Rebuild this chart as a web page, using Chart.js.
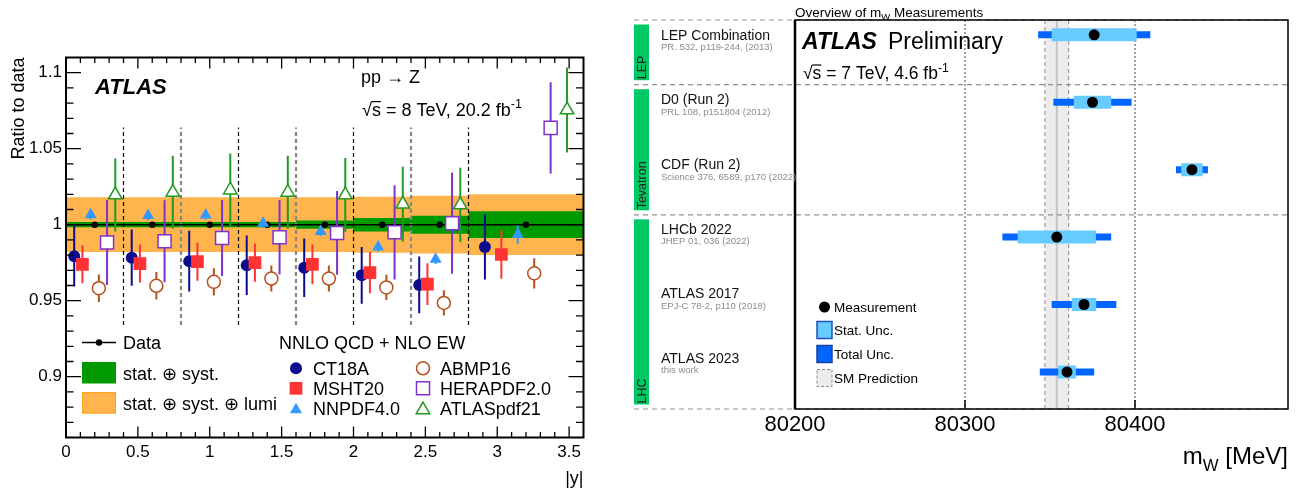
<!DOCTYPE html>
<html>
<head>
<meta charset="utf-8">
<script src="https://cdn.jsdelivr.net/npm/chart.js@4.4.1/dist/chart.umd.min.js"></script>
<style>
  body { margin: 0; background: #fff; }
  #left { position: absolute; left: 0; top: 0; }
  #right { position: absolute; left: 600px; top: 0; }
</style>
</head>
<body>
<canvas id="left" width="600" height="491"></canvas>
<canvas id="right" width="705" height="491"></canvas>
<script>
// ---------- left panel: Z rapidity, ratio to data ----------
const binLo = [0, 0.4, 0.8, 1.2, 1.6, 2.0, 2.4, 2.8];
const binHi = [0.4, 0.8, 1.2, 1.6, 2.0, 2.4, 2.8, 3.6];
const dataRatio = [1, 1, 1, 1, 1, 1, 1, 1];
const errStatSyst = [0.0017, 0.0017, 0.0017, 0.0017, 0.0027, 0.0044, 0.0059, 0.0088];
const errStatSystLumi = [0.018, 0.018, 0.018, 0.018, 0.018, 0.0184, 0.019, 0.020];

const ct18a = [0.9793, 0.9783, 0.976, 0.9733, 0.9717, 0.9667, 0.9604, 0.9854];
const ct18aErr = [0.020, 0.0185, 0.020, 0.0196, 0.0193, 0.0187, 0.0186, 0.0215];
const msht20 = [0.9739, 0.9744, 0.9757, 0.975, 0.9739, 0.9685, 0.9609, 0.9804];
const msht20Err = [0.0125, 0.0125, 0.0125, 0.0126, 0.013, 0.0136, 0.0137, 0.016];
const nnpdf40 = [1.0065, 1.006, 1.0063, 1.001, 0.9956, 0.9854, 0.9772, 0.9935];
const nnpdf40Err = [0.003, 0.003, 0.003, 0.003, 0.003, 0.003, 0.003, 0.006];
const abmp16 = [0.9582, 0.9598, 0.9624, 0.9646, 0.9646, 0.9587, 0.9485, 0.968];
const abmp16Err = [0.009, 0.009, 0.009, 0.0085, 0.0085, 0.0083, 0.0083, 0.010];
const herapdf20 = [0.9883, 0.9891, 0.9913, 0.9917, 0.9946, 0.995, 1.001, 1.0637];
const herapdf20Err = [0.028, 0.027, 0.025, 0.0245, 0.0275, 0.031, 0.0333, 0.030];
const atlaspdf21 = [1.0196, 1.0213, 1.0228, 1.0213, 1.0196, 1.0135, 1.013, 1.0755];
const atlaspdf21Err = [0.024, 0.024, 0.024, 0.024, 0.0243, 0.0247, 0.0245, 0.028];

const xTicksL = [0, 0.5, 1, 1.5, 2, 2.5, 3, 3.5];
const yTicksL = [0.9, 0.95, 1, 1.05, 1.1];

// ---------- right panel: overview of mW ----------
const expNames = ['LEP Combination', 'D0 (Run 2)', 'CDF (Run 2)', 'LHCb 2022', 'ATLAS 2017', 'ATLAS 2023'];
const expRefs = ['PR. 532, p119-244, (2013)', 'PRL 108, p151804 (2012)', 'Science 376, 6589, p170 (2022)',
                 'JHEP 01, 036 (2022)', 'EPJ-C 78-2, p110 (2018)', 'this work'];
const mW = [80376, 80375, 80433.5, 80354, 80370, 80360];
const mWStat = [25, 11, 6.3, 23, 7.2, 5.2];
const mWTot = [33, 23, 9.4, 32, 19, 16];
const groupNames = ['LEP', 'Tevatron', 'LHC'];
const groupEdges = [-0.22, 0.74, 2.67, 5.55];
const smW = 80354, smWErr = 7;
const xTicksR = [80200, 80300, 80400];

const FAM = '"Liberation Sans", Arial, Helvetica, sans-serif';

// text with sub/superscripts, y is the baseline
function rich(ctx, parts, x, y, size, align, color) {
  const fontOf = p => (p.style ? p.style + ' ' : '') + (p.sub || p.sup ? size * 0.7 : size) + 'px ' + FAM;
  ctx.save();
  ctx.textBaseline = 'alphabetic';
  ctx.textAlign = 'left';
  ctx.fillStyle = color || '#000';
  ctx.strokeStyle = color || '#000';
  let total = 0;
  const ws = parts.map(p => { ctx.font = fontOf(p); const w = ctx.measureText(p.t).width; total += w; return w; });
  let cx = align === 'right' ? x - total : align === 'center' ? x - total / 2 : x;
  parts.forEach((p, i) => {
    ctx.font = fontOf(p);
    const dy = p.sup ? -size * 0.42 : p.sub ? size * 0.28 : 0;
    ctx.fillText(p.t, cx, y + dy);
    if (p.over) {
      ctx.lineWidth = Math.max(1, size / 15);
      ctx.beginPath();
      ctx.moveTo(cx - 0.5, y - size * 0.8);
      ctx.lineTo(cx + ws[i], y - size * 0.8);
      ctx.stroke();
    }
    cx += ws[i];
  });
  ctx.restore();
  return total;
}

function marker(ctx, style, x, y, r, color, open) {
  ctx.save();
  ctx.beginPath();
  if (style === 'circle') ctx.arc(x, y, r, 0, Math.PI * 2);
  else if (style === 'rect') { const s = r * Math.SQRT1_2; ctx.rect(x - s, y - s, 2 * s, 2 * s); }
  else {
    for (let k = 0; k < 3; k++) {
      const a = k * 2 * Math.PI / 3;
      ctx.lineTo(x + Math.sin(a) * r, y - Math.cos(a) * r);
    }
    ctx.closePath();
  }
  if (open) { ctx.fillStyle = '#fff'; ctx.fill(); ctx.lineWidth = 1.5; ctx.strokeStyle = color; ctx.stroke(); }
  else { ctx.fillStyle = color; ctx.fill(); }
  ctx.restore();
}

// vertical / horizontal error bars drawn just before the markers of a dataset
const errorBars = {
  id: 'errorBars',
  beforeDatasetDraw(chart, args) {
    const ds = chart.data.datasets[args.index];
    if (!ds.errY && !ds.xLo) return;
    const { ctx, scales: { x, y } } = chart;
    ctx.save();
    ctx.strokeStyle = ds.errColor || ds.pointBorderColor;
    ctx.lineWidth = ds.errWidth || 2;
    ctx.beginPath();
    ds.data.forEach((p, i) => {
      if (ds.errY) {
        const px = x.getPixelForValue(p.x);
        ctx.moveTo(px, y.getPixelForValue(p.y - ds.errY[i]));
        ctx.lineTo(px, y.getPixelForValue(p.y + ds.errY[i]));
      }
      if (ds.xLo) {
        const py = y.getPixelForValue(p.y);
        ctx.moveTo(x.getPixelForValue(ds.xLo[i]), py);
        ctx.lineTo(x.getPixelForValue(ds.xHi[i]), py);
      }
    });
    ctx.stroke();
    ctx.restore();
  }
};

// ---------- left chart ----------
function bandPts(err, sign) {
  const pts = [];
  binLo.forEach((lo, i) => {
    pts.push({ x: lo, y: dataRatio[i] + sign * err[i] }, { x: binHi[i], y: dataRatio[i] + sign * err[i] });
  });
  return pts;
}
function edgePts(edges) {
  const pts = [];
  edges.forEach(e => { pts.push({ x: e, y: 0.934 }, { x: e, y: 1.064 }, { x: e, y: null }); });
  return pts;
}

const theory = [
  { label: 'CT18A', v: ct18a, e: ct18aErr, slot: 1, color: '#0b0b8e', style: 'circle', r: 6, open: false },
  { label: 'MSHT20', v: msht20, e: msht20Err, slot: 2, color: '#ff3333', style: 'rect', r: 9, open: false },
  { label: 'NNPDF4.0', v: nnpdf40, e: nnpdf40Err, slot: 3, color: '#3399ff', style: 'triangle', r: 7, open: false },
  { label: 'ABMP16', v: abmp16, e: abmp16Err, slot: 4, color: '#b5501e', style: 'circle', r: 6.5, open: true },
  { label: 'HERAPDF2.0', v: herapdf20, e: herapdf20Err, slot: 5, color: '#7f33cc', style: 'rect', r: 9.2, open: true },
  { label: 'ATLASpdf21', v: atlaspdf21, e: atlaspdf21Err, slot: 6, color: '#229922', style: 'triangle', r: 7.8, open: true }
];

const leftDatasets = [
  { label: 'lumi up', data: bandPts(errStatSystLumi, 1), showLine: true, fill: '+1', backgroundColor: '#ffb44d', borderWidth: 0, pointRadius: 0, order: 100 },
  { label: 'lumi dn', data: bandPts(errStatSystLumi, -1), showLine: true, borderWidth: 0, pointRadius: 0, order: 99 },
  { label: 'syst up', data: bandPts(errStatSyst, 1), showLine: true, fill: '+1', backgroundColor: '#009900', borderWidth: 0, pointRadius: 0, order: 98 },
  { label: 'syst dn', data: bandPts(errStatSyst, -1), showLine: true, borderWidth: 0, pointRadius: 0, order: 97 },
  { label: 'edges a', data: edgePts([0.4, 1.2, 2.0, 2.8]), showLine: true, borderColor: '#000', borderWidth: 1.2, borderDash: [4, 3], pointRadius: 0, order: 90 },
  { label: 'edges b', data: edgePts([0.8, 1.6, 2.4]), showLine: true, borderColor: '#888', borderWidth: 2.2, borderDash: [4, 3], pointRadius: 0, order: 89 },
  { label: 'Data', data: binLo.map((lo, i) => ({ x: (lo + binHi[i]) / 2, y: dataRatio[i] })), xLo: binLo, xHi: binHi,
    errColor: '#000', errWidth: 1.5, pointRadius: 3.2, pointBackgroundColor: '#000', pointBorderWidth: 0, order: 80 }
];
theory.forEach((t, k) => {
  leftDatasets.push({
    label: t.label,
    data: t.v.map((v, i) => ({ x: binLo[i] + (binHi[i] - binLo[i]) * t.slot / 7, y: v })),
    errY: t.e, errColor: t.color, errWidth: 2,
    pointStyle: t.style, pointRadius: t.r,
    pointBackgroundColor: t.open ? '#fff' : t.color,
    pointBorderColor: t.color, pointBorderWidth: t.open ? 1.5 : 0,
    order: 60 - k * 10
  });
});

const leftDeco = {
  id: 'leftDeco',
  afterDraw(chart) {
    const { ctx, chartArea: a, scales: { x, y } } = chart;
    ctx.save();
    ctx.strokeStyle = '#000';
    ctx.lineWidth = 1.3;
    ctx.beginPath();
    for (let k = 1; k < 36; k++) {
      const px = x.getPixelForValue(k / 10), len = k % 5 === 0 ? 11 : 5.5;
      ctx.moveTo(px, a.bottom); ctx.lineTo(px, a.bottom - len);
      ctx.moveTo(px, a.top); ctx.lineTo(px, a.top + len);
    }
    for (let k = 87; k <= 110; k++) {
      const py = y.getPixelForValue(k / 100), len = k % 5 === 0 ? 15 : 7.5;
      ctx.moveTo(a.left, py); ctx.lineTo(a.left + len, py);
      ctx.moveTo(a.right, py); ctx.lineTo(a.right - len, py);
    }
    ctx.stroke();
    ctx.lineWidth = 2;
    ctx.strokeRect(a.left, a.top, a.right - a.left, a.bottom - a.top);

    // axis titles
    ctx.save();
    ctx.translate(23.5, a.top);
    ctx.rotate(-Math.PI / 2);
    ctx.font = '18px ' + FAM; ctx.fillStyle = '#000'; ctx.textAlign = 'right'; ctx.textBaseline = 'alphabetic';
    ctx.fillText('Ratio to data', 0, 0);
    ctx.restore();
    rich(ctx, [{ t: '|y|' }], a.right, 484, 18, 'right');

    // labels
    rich(ctx, [{ t: 'ATLAS', style: 'italic bold' }], 95, 94, 22);
    rich(ctx, [{ t: 'pp \u2192 Z' }], 361, 83, 18);
    rich(ctx, [{ t: '\u221A' }, { t: 's', over: true }, { t: ' = 8 TeV, 20.2 fb' }, { t: '-1', sup: true }], 362, 116, 18);

    // legend
    ctx.strokeStyle = '#000'; ctx.lineWidth = 1.5;
    ctx.beginPath(); ctx.moveTo(82, 342.5); ctx.lineTo(116, 342.5); ctx.stroke();
    marker(ctx, 'circle', 99, 342.5, 3.2, '#000', false);
    rich(ctx, [{ t: 'Data' }], 123, 349, 18);
    ctx.fillStyle = '#009900'; ctx.fillRect(82, 362, 34, 21.5);
    ctx.fillStyle = '#ffb44d'; ctx.fillRect(82, 392, 34, 21.5);
    ctx.strokeStyle = '#ffa31a'; ctx.lineWidth = 1; ctx.strokeRect(82.5, 392.5, 33, 20.5);
    rich(ctx, [{ t: 'stat. \u2295 syst.' }], 123, 379.5, 18);
    rich(ctx, [{ t: 'stat. \u2295 syst. \u2295 lumi' }], 123, 409.5, 18);
    rich(ctx, [{ t: 'NNLO QCD + NLO EW' }], 279, 349, 18);
    theory.forEach((t, k) => {
      const col = k < 3 ? 0 : 1, row = k % 3;
      const mx = col ? 423 : 296, my = 368.3 + row * 20;
      marker(ctx, t.style, mx, my + (t.style === 'triangle' ? 1.5 : 0), t.r, t.color, t.open);
      rich(ctx, [{ t: t.label }], mx + 17, my + 6.3, 18);
    });
    ctx.restore();
  }
};

new Chart(document.getElementById('left'), {
  type: 'scatter',
  data: { datasets: leftDatasets },
  options: {
    responsive: false, animation: false, events: [],
    layout: { padding: { left: 10, right: 16.5, top: 57.5, bottom: 23.5 } },
    plugins: { legend: { display: false }, tooltip: { enabled: false } },
    scales: {
      x: {
        type: 'linear', min: 0, max: 3.6,
        afterFit: s => { s.height = 30; },
        afterBuildTicks: s => { s.ticks = xTicksL.map(v => ({ value: v })); },
        grid: { display: false, drawTicks: false }, border: { display: false },
        ticks: { color: '#000', padding: 5, maxRotation: 0, font: { family: 'Liberation Sans', size: 17 }, callback: v => String(v) }
      },
      y: {
        type: 'linear', min: 0.86, max: 1.11,
        afterFit: s => { s.width = 56; },
        afterBuildTicks: s => { s.ticks = yTicksL.map(v => ({ value: v })); },
        grid: { display: false, drawTicks: false }, border: { display: false },
        ticks: { color: '#000', padding: 4, font: { family: 'Liberation Sans', size: 17 }, callback: v => String(v) }
      }
    }
  },
  plugins: [errorBars, leftDeco]
});

// ---------- right chart ----------
function segPts(half) {
  const pts = [];
  mW.forEach((m, i) => { pts.push({ x: m - half[i], y: i }, { x: m + half[i], y: i }, { x: m, y: null }); });
  return pts;
}

const rightDeco = {
  id: 'rightDeco',
  beforeDatasetsDraw(chart) {
    const { ctx, chartArea: a, scales: { x, y } } = chart;
    ctx.save();
    // SM prediction band
    const x0 = x.getPixelForValue(smW - smWErr), x1 = x.getPixelForValue(smW + smWErr), xc = x.getPixelForValue(smW);
    ctx.fillStyle = '#ececec';
    ctx.fillRect(x0, a.top, x1 - x0, a.bottom - a.top);
    ctx.strokeStyle = '#c4c4c4'; ctx.lineWidth = 2;
    ctx.beginPath(); ctx.moveTo(xc, a.top); ctx.lineTo(xc, a.bottom); ctx.stroke();
    ctx.strokeStyle = '#8a8a8a'; ctx.lineWidth = 1; ctx.setLineDash([4, 3]);
    ctx.beginPath();
    ctx.moveTo(x0, a.top); ctx.lineTo(x0, a.bottom);
    ctx.moveTo(x1, a.top); ctx.lineTo(x1, a.bottom);
    ctx.stroke();
    // dotted grid
    ctx.strokeStyle = '#444'; ctx.setLineDash([2, 2]);
    ctx.beginPath();
    xTicksR.slice(1).forEach(v => { const px = x.getPixelForValue(v); ctx.moveTo(px, a.top); ctx.lineTo(px, a.bottom); });
    ctx.stroke();
    // group separators
    ctx.strokeStyle = '#909090'; ctx.setLineDash([5, 4]); ctx.lineWidth = 1.2;
    ctx.beginPath();
    groupEdges.forEach(e => { const py = y.getPixelForValue(e); ctx.moveTo(34, py); ctx.lineTo(a.right, py); });
    ctx.stroke();
    ctx.restore();
  },
  afterDraw(chart) {
    const { ctx, chartArea: a, scales: { x, y } } = chart;
    ctx.save();
    // frame and ticks
    ctx.strokeStyle = '#000'; ctx.lineWidth = 1.5;
    ctx.strokeRect(a.left, a.top, a.right - a.left, a.bottom - a.top);
    ctx.lineWidth = 2.5;
    ctx.beginPath(); ctx.moveTo(a.left, a.top); ctx.lineTo(a.left, a.bottom); ctx.stroke();
    ctx.lineWidth = 1.5;
    ctx.beginPath();
    xTicksR.forEach(v => { const px = x.getPixelForValue(v); ctx.moveTo(px, a.bottom); ctx.lineTo(px, a.bottom - 9); });
    ctx.stroke();

    // group bars
    groupNames.forEach((g, k) => {
      const y0 = y.getPixelForValue(groupEdges[k]) + 4.5, y1 = y.getPixelForValue(groupEdges[k + 1]) - 4.5;
      ctx.fillStyle = '#00c864';
      ctx.fillRect(34, y0, 15, y1 - y0);
      ctx.save();
      ctx.translate(46, y1 - 1);
      ctx.rotate(-Math.PI / 2);
      ctx.font = '12.5px ' + FAM; ctx.fillStyle = '#222'; ctx.textAlign = 'left'; ctx.textBaseline = 'alphabetic';
      ctx.fillText(g, 0, 0);
      ctx.restore();
    });
    // experiment labels
    expNames.forEach((n, i) => {
      const py = y.getPixelForValue(i * 0.958);
      rich(ctx, [{ t: n }], 61, py + 5, 14, 'left', '#111');
      rich(ctx, [{ t: expRefs[i] }], 61, py + 15.5, 9.5, 'left', '#8c8c8c');
    });

    // titles
    rich(ctx, [{ t: 'Overview of m' }, { t: 'W', sub: true }, { t: ' Measurements' }], a.left, 16.5, 13.5);
    const w = rich(ctx, [{ t: 'ATLAS', style: 'italic bold' }], a.left + 7, 49, 23);
    rich(ctx, [{ t: 'Preliminary' }], a.left + 7 + w + 11, 49, 23);
    rich(ctx, [{ t: '\u221A' }, { t: 's', over: true }, { t: ' = 7 TeV, 4.6 fb' }, { t: '-1', sup: true }], a.left + 8, 79, 17.5);
    rich(ctx, [{ t: 'm' }, { t: 'W', sub: true }, { t: ' [MeV]' }], a.right, 464, 24, 'right');

    // legend
    const lx = a.left + 22;
    marker(ctx, 'circle', lx + 7.5, 307, 5.5, '#000', false);
    rich(ctx, [{ t: 'Measurement' }], lx + 17, 312, 13.5);
    ctx.lineWidth = 1.5;
    ctx.fillStyle = '#66ccff'; ctx.strokeStyle = '#1f4fbf';
    ctx.fillRect(lx, 321.5, 15, 17); ctx.strokeRect(lx, 321.5, 15, 17);
    rich(ctx, [{ t: 'Stat. Unc.' }], lx + 17, 335, 13.5);
    ctx.fillStyle = '#0066ff'; ctx.strokeStyle = '#1a3fa0';
    ctx.fillRect(lx, 345.5, 15, 17); ctx.strokeRect(lx, 345.5, 15, 17);
    rich(ctx, [{ t: 'Total Unc.' }], lx + 17, 359, 13.5);
    ctx.fillStyle = '#ececec'; ctx.strokeStyle = '#8a8a8a'; ctx.lineWidth = 1; ctx.setLineDash([3, 2]);
    ctx.fillRect(lx, 369.5, 15, 17); ctx.strokeRect(lx, 369.5, 15, 17);
    ctx.setLineDash([]);
    rich(ctx, [{ t: 'SM Prediction' }], lx + 17, 383, 13.5);
    ctx.restore();
  }
};

new Chart(document.getElementById('right'), {
  type: 'scatter',
  data: {
    datasets: [
      { label: 'Measurement', data: mW.map((m, i) => ({ x: m, y: i })), pointRadius: 5.5, pointBackgroundColor: '#000', pointBorderWidth: 0, order: 1 },
      { label: 'Stat. Unc.', data: segPts(mWStat), showLine: true, borderColor: '#66ccff', borderWidth: 13, borderCapStyle: 'butt', pointRadius: 0, order: 2 },
      { label: 'Total Unc.', data: segPts(mWTot), showLine: true, borderColor: '#0066ff', borderWidth: 7, borderCapStyle: 'butt', pointRadius: 0, order: 3 }
    ]
  },
  options: {
    responsive: false, animation: false, events: [],
    layout: { padding: { left: 195, right: 17, top: 20, bottom: 42 } },
    plugins: { legend: { display: false }, tooltip: { enabled: false } },
    scales: {
      x: {
        type: 'linear', min: 80200, max: 80490,
        afterFit: s => { s.height = 40; },
        afterBuildTicks: s => { s.ticks = xTicksR.map(v => ({ value: v })); },
        grid: { display: false, drawTicks: false }, border: { display: false },
        ticks: { color: '#000', padding: 3, maxRotation: 0, font: { family: 'Liberation Sans', size: 22 }, callback: v => String(v) }
      },
      y: { type: 'linear', min: groupEdges[0], max: groupEdges[3], reverse: true, display: false }
    }
  },
  plugins: [rightDeco]
});
</script>
</body>
</html>
